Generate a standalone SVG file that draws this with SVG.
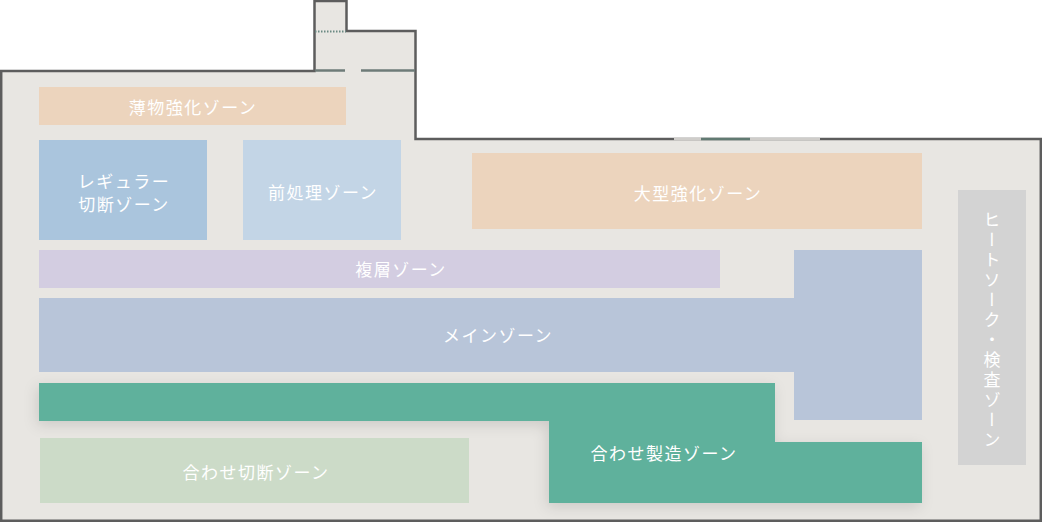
<svg xmlns="http://www.w3.org/2000/svg" width="1042" height="522" viewBox="0 0 1042 522">
<defs>
<filter id="sh" x="-10%" y="-20%" width="120%" height="150%"><feDropShadow dx="-2" dy="4" stdDeviation="7" flood-color="#000" flood-opacity="0.12"/></filter>
<style>
.t{font-family:"Noto Sans CJK JP","Noto Sans",sans-serif;font-size:17px;fill:#fff;letter-spacing:1.5px;text-anchor:middle;dominant-baseline:central}
</style>
</defs>
<rect width="1042" height="522" fill="#fff"/>
<g id="building">
<path d="M1.2,71 H314.5 V1 H346.5 V31 H415.5 V139 H1040.8 V520.8 H1.2 Z" fill="#e8e6e2" stroke="#5d5d5d" stroke-width="2.5"/>
<line x1="315" y1="31.5" x2="346" y2="31.5" stroke="#6b8a83" stroke-width="2" stroke-dasharray="1.5,1.5"/>
<line x1="315" y1="70.5" x2="345" y2="70.5" stroke="#6e7b78" stroke-width="2.5"/>
<line x1="361" y1="70.5" x2="415" y2="70.5" stroke="#6e7b78" stroke-width="2.5"/>
<line x1="674" y1="139" x2="701" y2="139" stroke="#cfcdca" stroke-width="2.6"/>
<line x1="750" y1="139" x2="820" y2="139" stroke="#cfcdca" stroke-width="2.6"/>
<line x1="701" y1="139" x2="750" y2="139" stroke="#617a72" stroke-width="2.6"/>
</g>
<g id="z-usumono"><rect x="39" y="87" width="307" height="38" fill="#ecd4bd"/><text class="t" x="193" y="106">薄物強化ゾーン</text></g>
<g id="z-regular"><rect x="39" y="140" width="168" height="100" fill="#aac5dd"/><text class="t" x="124" y="180">レギュラー</text><text class="t" x="124" y="203">切断ゾーン</text></g>
<g id="z-pre"><rect x="243" y="140" width="158" height="100" fill="#c3d5e6"/><text class="t" x="323" y="191">前処理ゾーン</text></g>
<g id="z-large"><rect x="472" y="153" width="450" height="76" fill="#ecd4bd"/><text class="t" x="698" y="192">大型強化ゾーン</text></g>
<g id="z-fukuso"><rect x="39" y="250" width="681" height="38" fill="#d3cde1"/><text class="t" x="401" y="268">複層ゾーン</text></g>
<g id="z-main"><path d="M39,298 H794 V250 H922 V420 H794 V372 H39 Z" fill="#b8c5d9"/><text class="t" x="498" y="334">メインゾーン</text></g>
<g id="z-awase-seizo"><path d="M39,383 H775 V442 H922 V503 H549 V421 H39 Z" fill="#5fb19c" filter="url(#sh)"/><text class="t" x="664" y="452">合わせ製造ゾーン</text></g>
<g id="z-awase-setsudan"><rect x="40" y="438" width="429" height="65" fill="#ccdbc8"/><text class="t" x="256" y="471">合わせ切断ゾーン</text></g>
<g id="z-heat"><rect x="958" y="190" width="68" height="275" fill="#d3d3d3"/><text x="992" y="211" style="writing-mode:vertical-rl;font-family:'Noto Sans CJK JP','Noto Sans',sans-serif;font-size:17px;fill:#fff;letter-spacing:3px">ヒートソーク・検査ゾーン</text></g>
<g id="connectors"></g>
</svg>
